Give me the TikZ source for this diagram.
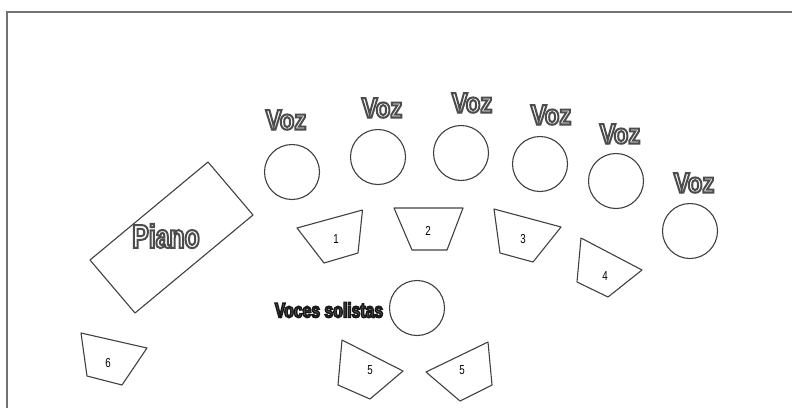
\documentclass[tikz,border=0pt]{standalone}
\usepackage{fontspec}
\usepackage{xcolor}
\usepackage{tikz}

\newfontfamily\stagefont[FakeStretch=0.85]{Liberation Sans}
\newfontfamily\narrowfont[FakeStretch=0.75]{Liberation Sans}
% hollow letters: white fill, dark stroke (text render mode 2)
\newcommand{\hollow}[1]{\special{pdf:literal direct 2 Tr 2 w 1 g 0.3 G}#1\special{pdf:literal direct 0 Tr 0 g 0 G}}
\newcommand{\darkhollow}[1]{\special{pdf:literal direct 2 Tr 1.4 w 0.35 g 0.1 G}#1\special{pdf:literal direct 0 Tr 0 g 0 G}}

\begin{document}
\begin{tikzpicture}[x=1pt, y=-1pt,
    seat/.style={draw=black!75, line width=1.1pt, circle, minimum size=55pt, inner sep=0pt},
    stand/.style={draw=black!75, line width=1.1pt, line join=round},
    voz/.style={font=\stagefont\fontsize{28}{28}\selectfont\bfseries, inner sep=0pt},
    num/.style={font=\narrowfont\fontsize{13}{13}\selectfont, inner sep=0pt}]
        \useasboundingbox (0,0) rectangle (792,408);

        % Frame
        \draw[line width=2.5pt, black!55] (7,408) -- (7,12) -- (792,12);

        % Piano
        \draw[stand] (208,162) -- (253,215) -- (135,313) -- (90,260) -- cycle;
        \node[inner sep=0pt, font=\narrowfont\fontsize{33}{33}\selectfont\bfseries] (piano) at (166,236) {\hollow{Piano}};

        % Coro: Voz
        \node[seat] (v1) at (292,172) {};
        \node[seat] (v2) at (378,157) {};
        \node[seat] (v3) at (461,153) {};
        \node[seat] (v4) at (540,164) {};
        \node[seat] (v5) at (616,181) {};
        \node[seat] (v6) at (690,231) {};
        \node[voz] (l1) at (286,120) {\hollow{Voz}};
        \node[voz] (l2) at (382,108) {\hollow{Voz}};
        \node[voz] (l3) at (472,103) {\hollow{Voz}};
        \node[voz] (l4) at (551,115) {\hollow{Voz}};
        \node[voz] (l5) at (620,134) {\hollow{Voz}};
        \node[voz] (l6) at (694,183) {\hollow{Voz}};

        % Atriles 1-4
        \draw[stand] (297,228) -- (362.5,210) -- (358,253) -- (324,263) -- cycle;
        \node[num] (n1) at (336,239) {1};
        \draw[stand] (394,208) -- (463,208) -- (447,250) -- (412,250) -- cycle;
        \node[num] (n2) at (428,231) {2};
        \draw[stand] (494,209) -- (561,227) -- (533,262) -- (500,253) -- cycle;
        \node[num] (n3) at (523,239) {3};
        \draw[stand] (581,238) -- (642,270) -- (608,297) -- (577,282) -- cycle;
        \node[num] (n4) at (605,276) {4};

        % Voces solistas
        \node[seat] (vsol) at (417,308) {};
        \node[inner sep=0pt, font=\narrowfont\fontsize{21}{21}\selectfont\bfseries] (lsol) at (329,310) {\darkhollow{Voces solistas}};
        \draw[stand] (342,340) -- (403,371) -- (370,399) -- (338,385) -- cycle;
        \node[num] (n5a) at (370,370) {5};
        \draw[stand] (488,342) -- (492,385) -- (460,401) -- (426,372) -- cycle;
        \node[num] (n5b) at (462,370) {5};

        % Atril 6
        \draw[stand] (81,333) -- (147,348) -- (122,385) -- (87,376) -- cycle;
        \node[num] (n6) at (108,363) {6};
\end{tikzpicture}
\end{document}
